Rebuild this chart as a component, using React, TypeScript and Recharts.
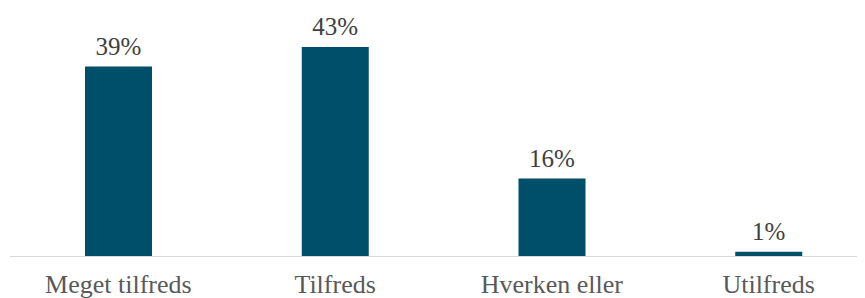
import React from 'react';
import { Bar, BarChart, LabelList, XAxis, YAxis } from 'recharts';

const categories = ['Meget tilfreds', 'Tilfreds', 'Hverken eller', 'Utilfreds'];
const shares = [39, 43, 16, 1];

const data = categories.map((name, i) => ({ name, value: shares[i] }));

const fontFamily = "'Liberation Serif', 'DejaVu Serif', serif";

export default function App() {
  return (
    <div style={{ width: 857, height: 290, overflow: 'hidden' }}>
      <BarChart
        width={869}
        height={290}
        data={data}
        margin={{ top: 5, right: 0, bottom: 0, left: 2 }}
      >
        <XAxis
          dataKey='name'
          height={41.5}
          axisLine={{ stroke: '#d9d9d9', strokeWidth: 1 }}
          tickLine={false}
          tickMargin={12}
          tick={{ fill: '#595959', fontSize: 26, fontFamily }}
          interval={0}
        />
        <YAxis hide domain={[0, 50]} />
        <Bar dataKey='value' fill='#004f6a' barSize={67} isAnimationActive={false}>
          <LabelList
            dataKey='value'
            position='top'
            offset={12}
            formatter={(v: number) => `${v}%`}
            style={{ fill: '#404040', fontSize: 25, fontFamily }}
          />
        </Bar>
      </BarChart>
    </div>
  );
}
